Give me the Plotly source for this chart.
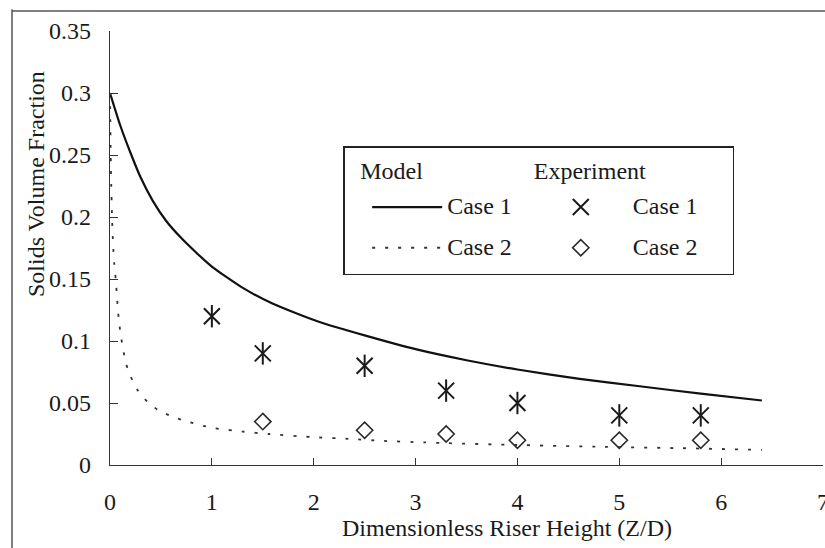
import plotly.graph_objects as go

# Model predictions (solids volume fraction along the riser)
model1_x = [0, 0.1, 0.2, 0.3, 0.42, 0.55, 0.7, 0.85, 1.0, 1.3, 1.6, 2.05, 2.5, 3.02, 3.5, 4.0, 4.61,
            5.2, 5.8, 6.4]
model1_y = [0.300, 0.274, 0.252, 0.232, 0.213, 0.197, 0.183, 0.171, 0.160, 0.143, 0.130, 0.1155, 0.1045,
            0.093, 0.0845, 0.077, 0.0695, 0.0635, 0.0575, 0.052]

model2_x = [0, 0.005, 0.01, 0.02, 0.03, 0.042, 0.056, 0.065, 0.075, 0.088, 0.107, 0.13, 0.156, 0.205,
            0.273, 0.368, 0.478, 0.615, 0.76, 1.0, 1.3, 1.56, 1.98, 2.37, 2.66, 3.09, 3.32, 3.97, 4.85,
            5.59, 6.4]
model2_y = [0.300, 0.265, 0.235, 0.200, 0.178, 0.162, 0.150, 0.140, 0.128, 0.116, 0.104, 0.093, 0.082,
            0.071, 0.060, 0.051, 0.044, 0.039, 0.035, 0.030, 0.027, 0.025, 0.0225, 0.021, 0.0195, 0.0182,
            0.0176, 0.0162, 0.0146, 0.0136, 0.0122]

# Experimental measurements
exp1_x = [1, 1.5, 2.5, 3.3, 4, 5, 5.8]
exp1_y = [0.12, 0.09, 0.08, 0.06, 0.05, 0.04, 0.04]
exp2_x = [1.5, 2.5, 3.3, 4, 5, 5.8]
exp2_y = [0.035, 0.028, 0.025, 0.02, 0.02, 0.02]

x_ticks = [0, 1, 2, 3, 4, 5, 6, 7]
y_ticks = [0, 0.05, 0.1, 0.15, 0.2, 0.25, 0.3, 0.35]

FONT = "Liberation Serif, Times New Roman, serif"
INK = "#1a1a1a"
FS = 24
NB = "\u00a0"


def entry(label, lead=0, trail=0):
    # legend entry text; the legend font is larger than the text so rows get more air
    return (f'<span style="font-size:{FS}px;baseline-shift:4px">'
            f'{NB * lead}{label}{NB * trail}</span>')


fig = go.Figure()

fig.add_trace(go.Scatter(
    x=model1_x, y=model1_y, mode="lines", name=entry("Case 1"),
    line=dict(color="#111111", width=2.2, shape="spline", smoothing=0.6),
    legendgroup="model",
    legendgrouptitle=dict(text=NB * 2 + "Model", font=dict(size=FS, family=FONT, color=INK)),
))
fig.add_trace(go.Scatter(
    x=model2_x, y=model2_y, mode="lines", name=entry("Case 2"),
    line=dict(color="#333333", width=1.8, dash="3px,10px", shape="spline", smoothing=0.6),
    legendgroup="model",
))
# six-armed star: diagonal cross plus vertical bar
fig.add_trace(go.Scatter(
    x=exp1_x, y=exp1_y, mode="markers", name=entry("Case 1", 2, 5),
    marker=dict(symbol="x-thin-open", size=16, color="#1a1a1a", line=dict(color="#1a1a1a", width=2)),
    legendgroup="exp",
    legendgrouptitle=dict(text=NB * 2 + "Experiment", font=dict(size=FS, family=FONT, color=INK)),
))
fig.add_trace(go.Scatter(
    x=exp1_x, y=exp1_y, mode="markers", showlegend=False, legendgroup="exp",
    marker=dict(symbol="line-ns-open", size=16, color="#1a1a1a", line=dict(color="#1a1a1a", width=2)),
))
fig.add_trace(go.Scatter(
    x=exp2_x, y=exp2_y, mode="markers", name=entry("Case 2", 2, 5),
    marker=dict(symbol="diamond-open", size=12.5, color="#2a2a2a", line=dict(color="#2a2a2a", width=1.6)),
    legendgroup="exp",
))

axis_common = dict(
    showgrid=False, zeroline=False, showline=True, linecolor="#333333", linewidth=1.2,
    ticks="inside", tickcolor="#333333", tickwidth=1.2,
    tickfont=dict(family=FONT, size=FS, color=INK),
    ticklabeloverflow="allow", automargin=False,
)

fig.update_xaxes(range=[0, 7], tickvals=x_ticks, ticklen=7, ticklabelstandoff=15, **axis_common)
fig.update_yaxes(range=[0, 0.35], tickvals=y_ticks, ticklen=8, ticklabelstandoff=13, **axis_common)

fig.update_layout(
    width=825, height=548,
    margin=dict(l=110, r=2, t=31, b=83, autoexpand=False),
    paper_bgcolor="white", plot_bgcolor="white",
    font=dict(family=FONT, size=FS, color=INK),
    showlegend=True,
    legend=dict(
        orientation="h", traceorder="grouped",
        x=0.327, y=(465 - 146) / 434, xanchor="left", yanchor="top",
        bgcolor="white", bordercolor="#222222", borderwidth=1.5,
        font=dict(family=FONT, size=29, color=INK),
        itemwidth=70, indentation=24, itemsizing="trace",
    ),
    annotations=[
        dict(text="Dimensionless Riser Height (Z/D)", xref="paper", yref="paper",
             x=(507 - 110) / 713, y=-(528 - 465) / 434, showarrow=False,
             xanchor="center", yanchor="middle", font=dict(family=FONT, size=FS, color=INK)),
        dict(text="Solids Volume Fraction", xref="paper", yref="paper", textangle=-90,
             x=-(110 - 36) / 713, y=(465 - 184) / 434, showarrow=False,
             xanchor="center", yanchor="middle", font=dict(family=FONT, size=FS, color=INK)),
    ],
    shapes=[
        dict(type="line", xref="paper", yref="paper", x0=-(110 - 12) / 713, x1=-(110 - 12) / 713,
             y0=1.05, y1=-0.3, line=dict(color="#555555", width=1.5)),
        dict(type="line", xref="paper", yref="paper", x0=-(110 - 12) / 713, x1=1.1,
             y0=(465 - 11) / 434, y1=(465 - 11) / 434, line=dict(color="#555555", width=1.5)),
    ],
)

fig.write_html("out.html")
